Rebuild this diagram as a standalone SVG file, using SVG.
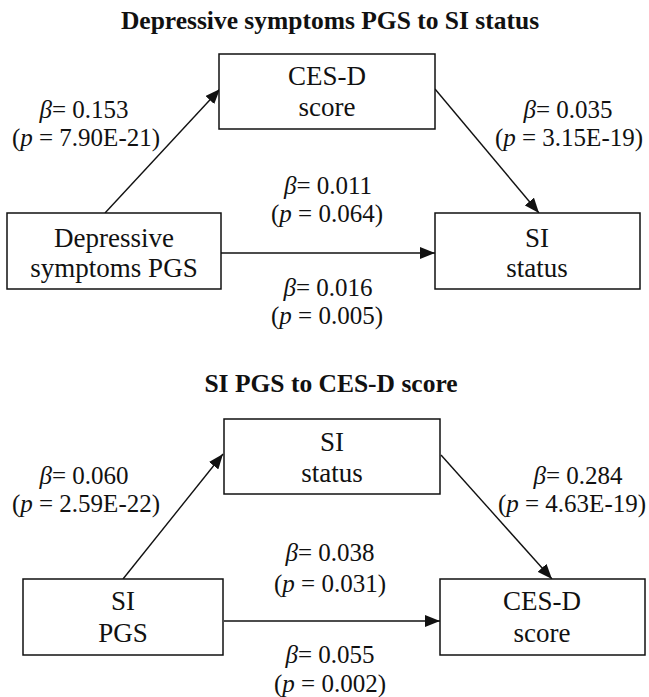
<svg xmlns="http://www.w3.org/2000/svg" width="649" height="697" viewBox="0 0 649 697">
<style>
.bg{fill:#fff}
.box{fill:#fff;stroke:#111;stroke-width:1.5}
.edge{stroke:#111;stroke-width:1.4;fill:none;marker-end:url(#ah)}
.title{font-family:"Liberation Serif",serif;font-weight:bold;font-size:25.5px;fill:#111;text-anchor:middle}
.node{font-family:"Liberation Serif",serif;font-size:27px;fill:#111;text-anchor:middle}
.lab{font-family:"Liberation Serif",serif;font-size:25px;fill:#111;text-anchor:middle}
.it{font-style:italic}
</style>
<defs>
<marker id="ah" markerUnits="userSpaceOnUse" markerWidth="15" markerHeight="12" refX="15" refY="6" orient="auto">
<path d="M0,0 L15,6 L0,12 z" fill="#111"/>
</marker>
</defs>
<rect class="bg" x="0" y="0" width="649" height="697"/>
<text class="title" x="330" y="29">Depressive symptoms PGS to SI status</text>
<text class="title" x="331" y="392">SI PGS to CES-D score</text>

<g id="connectors">
<line class="edge" x1="105" y1="213" x2="220" y2="89"/>
<line class="edge" x1="435" y1="89" x2="539" y2="213"/>
<line class="edge" x1="221" y1="253" x2="435" y2="253"/>
<line class="edge" x1="123" y1="579" x2="223" y2="454"/>
<line class="edge" x1="441" y1="455" x2="552" y2="579"/>
<line class="edge" x1="224" y1="621" x2="440" y2="621"/>
</g>

<g id="n-cesd1">
<rect class="box" x="219" y="54" width="216" height="75"/>
<text class="node" x="327" y="85">CES-D</text>
<text class="node" x="327" y="116">score</text>
</g>
<g id="n-dpgs">
<rect class="box" x="7" y="213" width="214" height="76"/>
<text class="node" x="114" y="247">Depressive</text>
<text class="node" x="114" y="277">symptoms PGS</text>
</g>
<g id="n-si1">
<rect class="box" x="435" y="213" width="205" height="76"/>
<text class="node" x="537" y="247">SI</text>
<text class="node" x="537" y="277">status</text>
</g>
<g id="n-si2">
<rect class="box" x="224" y="419" width="216" height="75"/>
<text class="node" x="332" y="451">SI</text>
<text class="node" x="332" y="482">status</text>
</g>
<g id="n-sipgs">
<rect class="box" x="23" y="579" width="200" height="76"/>
<text class="node" x="123" y="610">SI</text>
<text class="node" x="123" y="642">PGS</text>
</g>
<g id="n-cesd2">
<rect class="box" x="440" y="579" width="205" height="76"/>
<text class="node" x="542" y="610">CES-D</text>
<text class="node" x="542" y="642">score</text>
</g>

<g id="labels">
<text class="lab" x="84" y="118"><tspan class="it">β</tspan>= 0.153</text>
<text class="lab" x="86" y="146">(<tspan class="it">p</tspan> = 7.90E-21)</text>
<text class="lab" x="568" y="118"><tspan class="it">β</tspan>= 0.035</text>
<text class="lab" x="569" y="146">(<tspan class="it">p</tspan> = 3.15E-19)</text>
<text class="lab" x="328" y="194"><tspan class="it">β</tspan>= 0.011</text>
<text class="lab" x="327" y="222">(<tspan class="it">p</tspan> = 0.064)</text>
<text class="lab" x="328" y="296"><tspan class="it">β</tspan>= 0.016</text>
<text class="lab" x="327" y="324">(<tspan class="it">p</tspan> = 0.005)</text>

<text class="lab" x="84" y="484"><tspan class="it">β</tspan>= 0.060</text>
<text class="lab" x="86" y="512">(<tspan class="it">p</tspan> = 2.59E-22)</text>
<text class="lab" x="578" y="484"><tspan class="it">β</tspan>= 0.284</text>
<text class="lab" x="572" y="512">(<tspan class="it">p</tspan> = 4.63E-19)</text>
<text class="lab" x="330" y="561"><tspan class="it">β</tspan>= 0.038</text>
<text class="lab" x="330" y="592">(<tspan class="it">p</tspan> = 0.031)</text>
<text class="lab" x="330" y="663"><tspan class="it">β</tspan>= 0.055</text>
<text class="lab" x="330" y="692">(<tspan class="it">p</tspan> = 0.002)</text>
</g>
</svg>
